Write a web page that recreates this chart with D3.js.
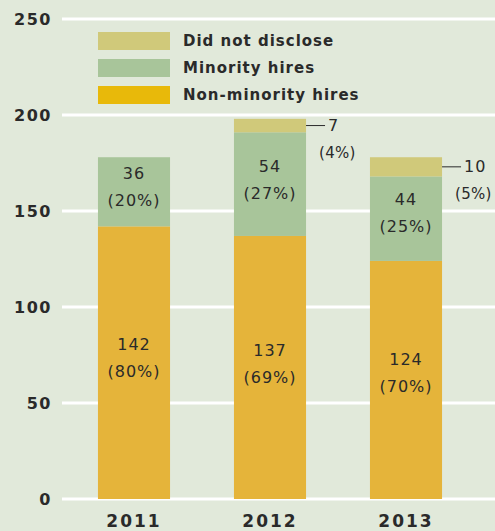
<!DOCTYPE html>
<html>
<head>
<meta charset="utf-8">
<script src="https://cdn.jsdelivr.net/npm/d3@7"></script>
<style>
body { margin: 0; background: #e1e9da; }
svg { display: block; }
text { font-family: "DejaVu Sans", sans-serif; fill: #2a2a2a; }
</style>
</head>
<body>
<div id="graph"></div>
<script>
var years = ["2011", "2012", "2013"];
var nonMinority = [142, 137, 124];
var minority = [36, 54, 44];
var notDisclosed = [0, 7, 10];
var nonMinorityPct = ["80%", "69%", "70%"];
var minorityPct = ["20%", "27%", "25%"];
var notDisclosedPct = ["", "4%", "5%"];
var yTicks = [0, 50, 100, 150, 200, 250];
var legendLabels = ["Did not disclose", "Minority hires", "Non-minority hires"];

var w = 495, h = 531;
var colNon = "#e5b43a", colMin = "#a8c59a", colNd = "#d0c97a";
var legendCols = [colNd, colMin, "#e8b90a"];

var vis = d3.select("#graph").append("svg").attr("width", w).attr("height", h);

var y = d3.scaleLinear().domain([0, 250]).range([499, 19]);
var x = d3.scaleBand().domain(years).range([66, 474]).paddingInner(0.47).paddingOuter(0.235);

// gridlines + tick labels
vis.selectAll(".grid").data(yTicks).enter().append("line")
  .attr("x1", 62).attr("x2", 495)
  .attr("y1", function(d) { return y(d); })
  .attr("y2", function(d) { return y(d); })
  .style("stroke", "#fff").style("stroke-width", 3);

vis.selectAll(".ytick").data(yTicks).enter().append("text")
  .attr("x", 52).attr("y", function(d) { return y(d); })
  .attr("dy", "0.35em").attr("text-anchor", "end")
  .style("font-size", "16px").style("font-weight", "bold").style("letter-spacing", "1.5px")
  .text(function(d) { return d; });

// stacked data
var rows = years.map(function(yr, i) {
  return { year: yr, non: nonMinority[i], min: minority[i], nd: notDisclosed[i] };
});
var stack = d3.stack().keys(["non", "min", "nd"])(rows);
var cols = { non: colNon, min: colMin, nd: colNd };

stack.forEach(function(layer) {
  vis.selectAll(".bar-" + layer.key).data(layer).enter().append("rect")
    .attr("x", function(d) { return x(d.data.year); })
    .attr("width", x.bandwidth())
    .attr("y", function(d) { return y(d[1]); })
    .attr("height", function(d) { return y(d[0]) - y(d[1]); })
    .attr("fill", cols[layer.key]);
});

// labels inside bars
function inner(vals, pcts, layer, off) {
  layer.forEach(function(d, i) {
    var cy = (y(d[0]) + y(d[1])) / 2 + off[i];
    var cx = x(d.data.year) + x.bandwidth() / 2;
    vis.append("text").attr("x", cx).attr("y", cy - 13).attr("dy", "0.35em")
      .attr("text-anchor", "middle").style("font-size", "16px").style("letter-spacing", "1px")
      .text(vals[i]);
    vis.append("text").attr("x", cx).attr("y", cy + 14).attr("dy", "0.35em")
      .attr("text-anchor", "middle").style("font-size", "16px").style("letter-spacing", "1px")
      .text("(" + pcts[i] + ")");
  });
}
inner(nonMinority, nonMinorityPct, stack[0], [-5, -4, -8]);
inner(minority, minorityPct, stack[1], [-5, -5, -6]);

// callouts for did not disclose
stack[2].forEach(function(d, i) {
  if (!notDisclosed[i]) return;
  var x0 = x(d.data.year) + x.bandwidth();
  var cy = (y(d[0]) + y(d[1])) / 2;
  vis.append("line").attr("x1", x0).attr("x2", x0 + 19).attr("y1", cy).attr("y2", cy)
    .style("stroke", "#2a2a2a").style("stroke-width", 1);
  vis.append("text").attr("x", x0 + 22).attr("y", cy).attr("dy", "0.35em")
    .style("font-size", "16px").style("letter-spacing", "1px").text(notDisclosed[i]);
  vis.append("text").attr("x", x0 + 13).attr("y", cy + 27).attr("dy", "0.35em")
    .style("font-size", "15px").style("letter-spacing", "0.3px").text("(" + notDisclosedPct[i] + ")");
});

// x labels
vis.selectAll(".xlab").data(years).enter().append("text")
  .attr("x", function(d) { return x(d) + x.bandwidth() / 2; })
  .attr("y", 521).attr("dy", "0.35em").attr("text-anchor", "middle")
  .style("font-size", "17px").style("font-weight", "bold").style("letter-spacing", "2px")
  .text(function(d) { return d; });

// legend
var lg = vis.selectAll(".legend").data(legendLabels).enter().append("g")
  .attr("transform", function(d, i) { return "translate(98," + (32 + i * 27) + ")"; });
lg.append("rect").attr("width", 72).attr("height", 18)
  .attr("fill", function(d, i) { return legendCols[i]; });
lg.append("text").attr("x", 85).attr("y", 9).attr("dy", "0.35em")
  .style("font-size", "15px").style("font-weight", "bold").style("letter-spacing", "1px")
  .text(function(d) { return d; });
</script>
</body>
</html>
